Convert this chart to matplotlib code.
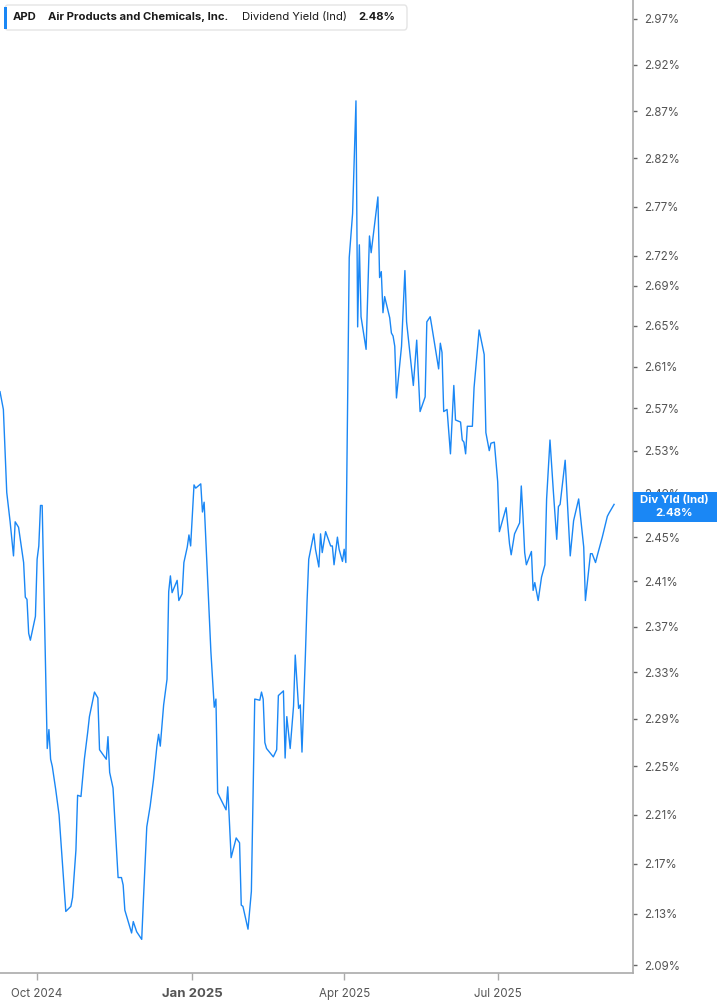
import matplotlib.pyplot as plt
import matplotlib.patches as mpatches
import matplotlib.ticker as mticker
import pandas as pd

plt.rcParams['font.family'] = ['Inter', 'DejaVu Sans']

# trading days since 2024-09-09 and the dividend yield (%) on that day
start = pd.Timestamp('2024-09-09')
day_offset = [
    0, 2, 4, 6, 8, 9, 11, 14, 15, 16, 17, 18, 21, 22, 23, 24, 25,
    28, 29, 30, 31, 33, 35, 37, 39, 42, 43, 45, 46, 48, 50, 52, 53, 56, 58, 59,
    63, 64, 65, 67, 70, 72, 73, 74, 78, 79, 81, 84, 85, 87, 89, 91, 93, 94, 95, 97, 99,
    100, 101, 102, 105, 106, 108, 109, 111, 112, 113, 115, 116, 119, 120, 121, 123,
    125, 127, 128, 129, 134, 135, 137, 140, 142, 143, 144, 147, 149, 151, 154, 155,
    156, 157, 158, 162, 164, 165, 168, 169, 170, 172, 174, 175, 177, 178,
    179, 181, 182, 183, 186, 187, 189, 190, 191, 193, 196, 197, 198, 200, 201, 203, 204, 205,
    207, 208, 209, 211, 212, 213, 214, 217, 219, 220, 224, 225, 226, 227, 228, 231,
    232, 233, 234, 235, 238, 240, 241, 245, 247, 249,
    252, 253, 255, 256, 260, 261, 262, 263, 265, 267, 269, 270, 273, 274, 275, 276,
    277, 280, 281, 284, 287, 288, 290, 291, 293, 295, 296, 300, 302, 303, 305, 308,
    309, 310, 311, 312, 315, 316, 317, 319, 321, 323, 324, 326, 328, 330, 331, 332,
    335, 338, 340, 343, 346, 347, 350, 351, 353, 354, 357, 360, 361, 364,
]
div_yield = [
    2.586, 2.569, 2.491, 2.464, 2.433, 2.464, 2.459, 2.427, 2.396, 2.394, 2.364, 2.358,
    2.379, 2.430, 2.442, 2.479, 2.479,
    2.265, 2.281, 2.256, 2.250, 2.231, 2.210, 2.171, 2.132, 2.136, 2.143, 2.181, 2.226,
    2.225, 2.256, 2.279, 2.292, 2.313, 2.308, 2.264, 2.256, 2.275, 2.245, 2.232, 2.159,
    2.159, 2.153, 2.133, 2.115, 2.124, 2.116, 2.110, 2.141, 2.200, 2.217, 2.239, 2.267,
    2.277, 2.267, 2.302, 2.324,
    2.401, 2.415, 2.400, 2.411, 2.393, 2.399, 2.427, 2.441, 2.452, 2.442, 2.498, 2.495,
    2.499, 2.473, 2.482, 2.415, 2.348, 2.300, 2.307, 2.228, 2.214, 2.233, 2.175, 2.191,
    2.187, 2.137, 2.136, 2.118, 2.148, 2.307, 2.306, 2.313, 2.307, 2.270, 2.265, 2.258,
    2.264, 2.310, 2.314, 2.257, 2.292, 2.265, 2.301, 2.345, 2.299, 2.302,
    2.262, 2.344, 2.392, 2.430, 2.453, 2.439, 2.423, 2.453, 2.436, 2.455, 2.442, 2.442,
    2.425, 2.450, 2.439, 2.428, 2.439, 2.427,
    2.718, 2.740, 2.763, 2.881, 2.649, 2.731, 2.659, 2.627, 2.740, 2.723, 2.780, 2.698,
    2.704, 2.663, 2.679, 2.658, 2.643, 2.640, 2.630, 2.580, 2.630, 2.705, 2.654, 2.592,
    2.636, 2.567,
    2.581, 2.654, 2.659, 2.649, 2.608, 2.633, 2.624, 2.567, 2.569, 2.527, 2.592, 2.559,
    2.557, 2.540, 2.538, 2.527, 2.553, 2.553, 2.590, 2.646, 2.622, 2.547, 2.530, 2.537,
    2.538, 2.501, 2.455, 2.477, 2.444, 2.434, 2.453, 2.463, 2.497, 2.469, 2.436, 2.425,
    2.437, 2.402, 2.409, 2.393, 2.414, 2.425, 2.485, 2.540, 2.492, 2.448, 2.478, 2.480,
    2.521, 2.433, 2.465, 2.485, 2.441, 2.393, 2.435, 2.435, 2.427, 2.433, 2.450, 2.469,
    2.472, 2.480,
]

y_ticks = [2.09, 2.13, 2.17, 2.21, 2.25, 2.29, 2.33, 2.37, 2.41, 2.45, 2.49,
           2.53, 2.57, 2.61, 2.65, 2.69, 2.72, 2.77, 2.82, 2.87, 2.92, 2.97]
x_ticks = ['2024-10-01', '2025-01-01', '2025-04-01', '2025-07-01']
x_labels = ['Oct 2024', 'Jan 2025', 'Apr 2025', 'Jul 2025']

ticker_sym = 'APD'
company = 'Air Products and Chemicals, Inc.'
metric = 'Dividend Yield (Ind)'
last_label = '2.48%'

dates = start + pd.to_timedelta(day_offset, unit='D')
blue = '#1a87f5'

W, H = 717, 1005
fig = plt.figure(figsize=(W / 100, H / 100), dpi=100)
ax = fig.add_axes([0, 32 / H, 633 / W, 973 / H])

ax.plot(dates, div_yield, color=blue, lw=1.0)

ax.set_yscale('log')
ax.set_ylim(2.0838, 2.991)
ax.set_xlim(pd.Timestamp('2024-09-09'), pd.Timestamp('2025-09-19 05:00'))

ax.yaxis.set_major_locator(mticker.FixedLocator(y_ticks))
ax.yaxis.set_major_formatter(mticker.FixedFormatter(['%.2f%%' % v for v in y_ticks]))
ax.yaxis.set_minor_locator(mticker.NullLocator())
ax.yaxis.tick_right()
ax.tick_params(axis='y', length=3, width=1, color='#666', labelcolor='#555',
               labelsize=8.3, pad=5)

ax.set_xticks([pd.Timestamp(d) for d in x_ticks])
ax.set_xticklabels(x_labels)
ax.tick_params(axis='x', length=5, width=1, color='#aaa', labelcolor='#555',
               labelsize=8.3, pad=6)
for lab in ax.get_xticklabels():
    if lab.get_text().startswith('Jan'):
        lab.set_fontweight('bold')
        lab.set_fontsize(9.5)

for s in ['top', 'left']:
    ax.spines[s].set_visible(False)
for s in ['right', 'bottom']:
    ax.spines[s].set_color('#aaa')
    ax.spines[s].set_linewidth(1.2)


def fx(px):
    return px / W


def fy(py):
    return 1 - py / H


# header box
hdr = mpatches.FancyBboxPatch((fx(5), fy(30)), fx(402), 25 / H,
                              boxstyle='round,pad=0,rounding_size=0.004',
                              transform=fig.transFigure, facecolor='white',
                              edgecolor='#e4e4e4', lw=1, zorder=5)
fig.patches.append(hdr)
fig.patches.append(mpatches.Rectangle((fx(4), fy(29)), fx(3), 22 / H,
                                      transform=fig.transFigure,
                                      facecolor=blue, edgecolor='none', zorder=6))
hy = fy(17)
hs = 8.1
fig.text(fx(13), hy, ticker_sym, fontsize=hs, fontweight='bold', color='#1a1a1a',
         va='center', zorder=7)
fig.text(fx(48), hy, company, fontsize=hs, fontweight='bold', color='#1a1a1a',
         va='center', zorder=7)
fig.text(fx(242), hy, metric, fontsize=hs, color='#1a1a1a', va='center', zorder=7)
fig.text(fx(358), hy, last_label, fontsize=hs, fontweight='bold', color='#1a1a1a',
         va='center', zorder=7)

# last value label on the right axis
fig.patches.append(mpatches.Rectangle((fx(633), fy(522)), fx(84), 30 / H,
                                      transform=fig.transFigure,
                                      facecolor=blue, edgecolor='none', zorder=6))
fig.text(fx(674), fy(500), 'Div Yld (Ind)', fontsize=8.2, fontweight='bold',
         color='white', ha='center', va='center', zorder=7)
fig.text(fx(674), fy(513), last_label, fontsize=8.2, fontweight='bold',
         color='white', ha='center', va='center', zorder=7)

fig.savefig('out.png', dpi=100)
